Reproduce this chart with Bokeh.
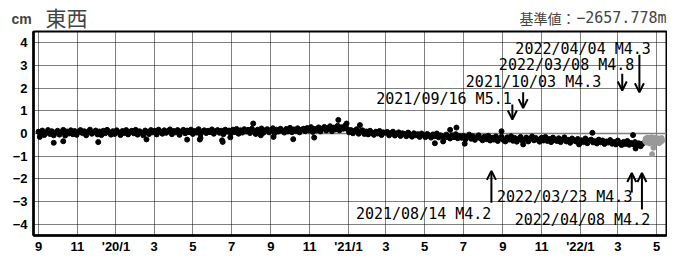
import pandas as pd
from bokeh.plotting import figure
from bokeh.layouts import column
from bokeh.models import ColumnDataSource, Range1d, FixedTicker, Span, Arrow, OpenHead, Label
from bokeh.core.properties import value
from bokeh.embed import file_html
from bokeh.resources import INLINE

# ---------------- data ----------------
series_start = "2019-09-01"          # first final-solution point
series_step_days = 3                 # one point per 3 days
ew_values = [
    0.08, -0.04, 0.13, -0.07, 0.03, 0.15, -0.02, 0.10, -0.08, 0.05,
    0.12, -0.05, 0.06, 0.16, -0.09, 0.09, 0.00, 0.14, -0.03, 0.11,
    -0.06, 0.07, 0.15, 0.02, 0.10, -0.08, 0.08, 0.17, -0.01, 0.05,
    0.13, -0.04, 0.09, -0.07, 0.12, 0.01, 0.16, 0.06, -0.05, 0.10,
    -0.02, 0.14, 0.05, -0.07, 0.11, 0.02, 0.15, -0.04, 0.08, 0.12,
    0.01, 0.16, -0.05, 0.10, 0.04, -0.08, 0.13, 0.07, -0.02, 0.15,
    0.05, 0.12, -0.04, 0.17, 0.08, -0.01, 0.14, 0.03, 0.10, 0.18,
    -0.03, 0.11, 0.05, 0.15, -0.06, 0.09, 0.16, 0.01, 0.13, 0.06,
    0.17, -0.02, 0.11, 0.04, 0.19, -0.04, 0.09, 0.14, 0.02, 0.12,
    0.06, 0.18, -0.01, 0.10, 0.15, 0.03, 0.12, -0.03, 0.17, 0.08,
    0.13, 0.01, 0.17, 0.06, 0.20, -0.01, 0.14, 0.04, 0.19, 0.09,
    0.16, 0.02, 0.21, 0.10, -0.02, 0.17, 0.07, 0.22, 0.03, 0.14,
    0.19, 0.05, 0.15, 0.23, 0.02, 0.17, 0.09, 0.21, 0.12, 0.04,
    0.20, 0.09, 0.25, 0.06, 0.18, 0.11, 0.23, 0.05, 0.16, 0.21,
    0.10, 0.24, 0.13, 0.28, 0.07, 0.20, 0.14, 0.27, 0.09, 0.22,
    0.29, 0.13, 0.23, 0.32, 0.10, 0.26, 0.18, 0.34, 0.14, 0.28, 0.21, 0.35,
    0.20, 0.05, 0.15, 0.01, 0.12, 0.19, -0.01, 0.10, 0.14, -0.02,
    0.09, -0.04, 0.12, 0.02, -0.06, 0.08, 0.00, 0.11, -0.07, 0.05,
    0.03, 0.07, -0.08, 0.02, 0.08, -0.09, -0.01, 0.05, -0.11, 0.01,
    -0.02, -0.12, 0.04, -0.06, -0.14, 0.01, -0.08, -0.03, -0.15, 0.00,
    -0.07, -0.16, -0.02, -0.10, -0.18, -0.04, -0.12, 0.00, -0.17, -0.08,
    -0.12, -0.20, -0.05, -0.15, -0.22, -0.08, -0.16, -0.03, -0.21, -0.11,
    -0.19, -0.10, -0.26, -0.14, -0.05, -0.23, -0.12, -0.28, -0.16, -0.08,
    -0.22, -0.30, -0.14, -0.25, -0.10, -0.31, -0.19, -0.27, -0.13, -0.33,
    -0.21, -0.14, -0.29, -0.35, -0.17, -0.27, -0.12, -0.32, -0.20, -0.36,
    -0.24, -0.15, -0.32, -0.27, -0.18, -0.35, -0.23, -0.13, -0.30, -0.20,
    -0.28, -0.36, -0.19, -0.31, -0.15, -0.33, -0.24, -0.38, -0.18, -0.29,
    -0.33, -0.21, -0.38, -0.27, -0.17, -0.35, -0.28, -0.41, -0.22, -0.31,
    -0.35, -0.24, -0.41, -0.30, -0.38, -0.22, -0.43, -0.31, -0.27, -0.39,
    -0.34, -0.44, -0.27, -0.39, -0.31, -0.46, -0.35, -0.40, -0.29, -0.45,
    -0.38, -0.48, -0.31, -0.43, -0.51, -0.37, -0.46, -0.33, -0.50, -0.42,
    -0.47, -0.38, -0.53, -0.43, -0.56, -0.45,
]
outlier_dates = [
    "2019-09-03", "2019-09-25", "2019-10-10", "2019-12-04", "2020-02-18",
    "2020-04-22", "2020-05-12", "2020-05-13", "2020-06-16", "2020-06-17",
    "2020-06-29", "2020-08-04", "2020-08-16", "2020-09-05", "2020-10-06",
    "2020-11-08", "2020-12-16", "2020-12-29", "2021-01-19", "2021-05-17",
    "2021-05-30", "2021-06-10", "2021-06-20", "2021-07-03", "2021-08-30",
    "2021-10-03", "2021-12-30", "2022-01-20", "2022-03-25", "2022-03-28",
    "2022-03-29",
]
outlier_values = [
    -0.15, -0.41, -0.34, -0.38, -0.26,
    -0.27, -0.27, -0.20, -0.30, -0.37,
    -0.17, 0.44, -0.08, -0.15, -0.25,
    -0.18, 0.60, 0.44, 0.37, -0.43,
    -0.35, 0.16, 0.26, -0.45, 0.10,
    -0.48, -0.48, 0.03, -0.07, -0.48,
    -0.66,
]
prov_start = "2022-04-13"            # provisional (grey) daily points
prov_values = [
    -0.33, -0.22, -0.40, -0.28, -0.18, -0.37, -0.26, -0.44, -0.21, -0.32,
    -0.17, -0.38, -0.25, -0.35, -0.20, -0.42, -0.30, -0.19, -0.39, -0.27,
    -0.34, -0.22, -0.43, -0.29, -0.24, -0.36, -0.20, -0.31,
]
prov_outlier_dates = ["2022-04-24", "2022-04-26"]
prov_outlier_values = [-0.91, -0.63]

# earthquakes
quake_text = ["2022/04/04 M4.3", "2022/03/08 M4.8", "2021/10/03 M4.3",
              "2021/09/16 M5.1", "2021/08/14 M4.2", "2022/03/23 M4.3",
              "2022/04/08 M4.2"]
quake_dates = ["2022-04-04", "2022-03-08", "2021-10-03", "2021-09-16",
               "2021-08-14", "2022-03-23", "2022-04-08"]
# annotation layout (arrow tail / tip, label anchor)
arrow_tail = [3.47, 2.64, 1.82, 1.28, -3.06, -2.60, -3.35]
arrow_tip = [1.82, 1.90, 1.12, 0.62, -1.65, -1.74, -1.74]
label_right = ["2022-04-22", "2022-03-27", "2022-02-03", "2021-09-15",
               "2021-08-14", "2022-03-24", "2022-04-21"]
label_y = [3.73, 3.02, 2.29, 1.51, -3.57, -2.81, -3.80]

x_tick_dates = ["2019-09-01", "2019-11-01", "2020-01-01", "2020-03-01",
                "2020-05-01", "2020-07-01", "2020-09-01", "2020-11-01",
                "2021-01-01", "2021-03-01", "2021-05-01", "2021-07-01",
                "2021-09-01", "2021-11-01", "2022-01-01", "2022-03-01",
                "2022-05-01"]
x_tick_labels = ["9", "11", "'20/1", "3", "5", "7", "9", "11", "'21/1",
                 "3", "5", "7", "9", "11", "'22/1", "3", "5"]
y_ticks = [-4, -3, -2, -1, 0, 1, 2, 3, 4]
y_tick_labels = ["−4", "−3", "−2", "−1", "0", "1", "2", "3", "4"]

title_text = "東西"
unit_text = "cm"
ref_label = "基準値："
ref_value = "−2657.778m"


def ms(d):
    return pd.Timestamp(d).value / 1e6


W = 667
HEAD_H = 30
MAIN_H = 226
TICK_FONT = "Liberation Sans"

# ---------------- header strip ----------------
head = figure(width=W, height=HEAD_H, x_range=Range1d(0, W),
              y_range=Range1d(0, HEAD_H), x_axis_location=None,
              y_axis_location=None, output_backend="svg",
              toolbar_location=None, min_border=0)
head.frame_align = False
head.outline_line_color = None
head.grid.visible = False
head.background_fill_color = "white"
head.border_fill_color = "white"
head.add_layout(Label(x=11, y=HEAD_H - 18, text=unit_text,
                      text_baseline="middle", text_font=TICK_FONT,
                      text_font_style="bold", text_font_size="14px"))
head.add_layout(Label(x=45, y=HEAD_H - 16, text=title_text,
                      text_baseline="middle", text_font="Noto Sans CJK JP",
                      text_font_size="21px"))
head.add_layout(Label(x=575, y=HEAD_H - 17, text=ref_label,
                      text_align="right", text_baseline="middle",
                      text_font="Noto Sans CJK JP", text_font_size="14px"))
head.add_layout(Label(x=W - 1, y=HEAD_H - 17, text=ref_value,
                      text_align="right", text_baseline="middle",
                      text_font="DejaVu Sans Mono", text_font_size="15px"))

# ---------------- main chart ----------------
x_start = ms("2019-08-24 03:00")
x_end = ms("2022-05-16 16:00")

p = figure(width=W, height=MAIN_H, x_axis_type="datetime",
           x_range=Range1d(x_start, x_end), y_range=Range1d(-4.5, 4.5),
           output_backend="svg", toolbar_location=None,
           min_border_left=33, min_border_right=1, min_border_top=1,
           min_border_bottom=2)
p.frame_align = False
p.background_fill_color = "white"
p.border_fill_color = "white"
p.outline_line_color = "black"
p.outline_line_width = 2

xt = [ms(d) for d in x_tick_dates]
p.xaxis.ticker = FixedTicker(ticks=xt)
p.xaxis.major_label_overrides = {t: l for t, l in zip(xt, x_tick_labels)}
p.yaxis.ticker = FixedTicker(ticks=y_ticks)
p.yaxis.major_label_overrides = {t: l for t, l in zip(y_ticks, y_tick_labels)}

for ax in (p.xaxis[0], p.yaxis[0]):
    ax.axis_line_color = "black"
    ax.axis_line_width = 2.5
    ax.major_tick_out = 0
    ax.major_tick_in = 0
    ax.minor_tick_out = 0
    ax.minor_tick_in = 0
    ax.major_label_text_font = TICK_FONT
    ax.major_label_text_font_style = "bold"
    ax.major_label_text_font_size = "13px"
    ax.major_label_text_color = "black"
p.xaxis.major_label_standoff = 3
p.yaxis.major_label_standoff = 6

p.xgrid.ticker = FixedTicker(ticks=xt)
p.ygrid.ticker = FixedTicker(ticks=[t for t in y_ticks if t != 0])
for g in (p.xgrid[0], p.ygrid[0]):
    g.grid_line_color = "black"
    g.grid_line_dash = "1 1"
    g.grid_line_width = 1

p.add_layout(Span(location=0, dimension="width", line_color="#808080",
                  line_width=1.5, level="underlay"))

# final solution points
main_dates = pd.date_range(series_start, periods=len(ew_values),
                           freq=f"{series_step_days}D")
src_main = ColumnDataSource(dict(
    x=list(main_dates) + [pd.Timestamp(d) for d in outlier_dates],
    y=ew_values + outlier_values))
p.scatter("x", "y", source=src_main, size=5, color="black", marker="circle")

# provisional points
prov_dates = pd.date_range(prov_start, periods=len(prov_values), freq="D")
src_prov = ColumnDataSource(dict(
    x=list(prov_dates) + [pd.Timestamp(d) for d in prov_outlier_dates],
    y=prov_values + prov_outlier_values))
p.scatter("x", "y", source=src_prov, size=5, color="#999999", marker="circle")

# earthquake arrows & labels
qx = [ms(d) for d in quake_dates]
arrow_src = ColumnDataSource(dict(x0=qx, y0=arrow_tail, x1=qx, y1=arrow_tip))
p.add_layout(Arrow(end=OpenHead(size=9, line_width=2, line_color="black"),
                   x_start="x0", y_start="y0", x_end="x1", y_end="y1",
                   source=arrow_src, line_width=2, line_color="black"))
lab_src = ColumnDataSource(dict(x=[ms(d) for d in label_right], y=label_y,
                                t=quake_text))
p.text("x", "y", text="t", source=lab_src, text_align="right",
       text_baseline="middle", text_font=value("DejaVu Sans Mono"),
       text_font_size="15px", text_color="black")

layout = column(head, p, spacing=0)
open("out.html", "w").write(file_html(layout, INLINE))
